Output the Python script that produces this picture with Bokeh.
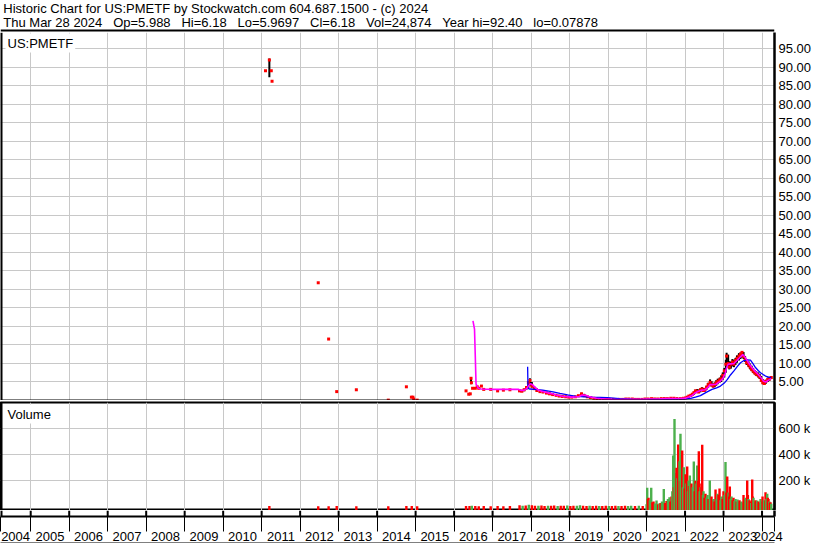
from bokeh.plotting import figure
from bokeh.layouts import column
from bokeh.models import (Range1d, FixedTicker, Span, Label, ColumnDataSource, LinearAxis,
                          CustomJSTickFormatter, PrintfTickFormatter)
from bokeh.embed import file_html
from bokeh.resources import INLINE

FONT = "Liberation Sans"
W = 830

# ---------------- header values ----------------
symbol = "US:PMETF"
quote_day = "Thu Mar 28 2024"
q_open, q_high, q_low, q_close = "5.988", "6.18", "5.9697", "6.18"
q_vol = "24,874"
year_hi, year_lo = "92.40", "0.07878"

# ---------------- axes ----------------
x_start, x_end = 2004.215, 2024.324
year_labels = list(range(2004, 2025))
price_ticks = [5, 10, 15, 20, 25, 30, 35, 40, 45, 50, 55, 60, 65, 70, 75, 80, 85, 90, 95]
vol_ticks = [200000, 400000, 600000]

# ---------------- price records ----------------
px_date = [2011.10, 2011.20, 2011.25, 2011.27, 2012.47, 2012.74, 2012.95, 2013.46, 2014.29, 2014.76,
           2014.89, 2014.93, 2014.95, 2015.04, 2016.31, 2016.38, 2016.42, 2016.44, 2016.45, 2016.48,
           2016.55, 2016.60, 2016.64, 2016.71, 2016.77, 2016.95, 2017.13, 2017.28, 2017.45,
           2017.70, 2017.76, 2017.82, 2017.88, 2017.93, 2017.97, 2018.02, 2018.08, 2018.15, 2018.23,
           2018.31, 2018.40, 2018.48, 2018.56, 2018.65, 2018.73, 2018.81, 2018.90, 2018.98, 2019.06,
           2019.15, 2019.23, 2019.31, 2019.38, 2019.46, 2019.54, 2019.63, 2019.71, 2019.79, 2019.88,
           2019.96, 2020.04, 2020.13, 2020.21, 2020.29, 2020.38, 2020.46, 2020.54, 2020.63, 2020.71,
           2020.79, 2020.88, 2020.96, 2021.04, 2021.13, 2021.21, 2021.29, 2021.38, 2021.46, 2021.54,
           2021.63, 2021.71, 2021.79, 2021.88, 2021.96, 2022.02, 2022.06, 2022.10, 2022.15, 2022.19,
           2022.23, 2022.27, 2022.31, 2022.35, 2022.40, 2022.44, 2022.48, 2022.52, 2022.56, 2022.60,
           2022.65, 2022.69, 2022.73, 2022.77, 2022.81, 2022.85, 2022.90, 2022.94, 2022.98, 2023.02,
           2023.06, 2023.08, 2023.12, 2023.15, 2023.19, 2023.23, 2023.27, 2023.31, 2023.35, 2023.40,
           2023.44, 2023.48, 2023.52, 2023.56, 2023.60, 2023.65, 2023.69, 2023.73, 2023.77, 2023.81,
           2023.85, 2023.90, 2023.94, 2023.98, 2024.02, 2024.06, 2024.10, 2024.15, 2024.19, 2024.24]
px_high = [89.1, 92.4, 89.1, 86.2, 31.8, 16.6, 2.4, 2.9, 0.1, 3.7,
           0.9, 0.9, 0.4, 0.1, 2.6, 1.7, 1.8, 6.0, 4.8, 3.3,
           3.3, 3.7, 3.3, 3.9, 3.0, 3.0, 2.6, 2.8, 2.9,
           3.0, 2.9, 3.2, 3.8, 5.2, 6.0, 5.0, 3.9, 3.3, 2.8,
           2.6, 2.4, 2.1, 2.0, 1.7, 1.5, 1.4, 1.3, 1.2, 1.1,
           1.2, 1.4, 2.1, 1.8, 1.3, 1.0, 0.9, 0.7, 0.6, 0.6,
           0.5, 0.5, 0.4, 0.4, 0.4, 0.5, 0.5, 0.6, 0.6, 0.5,
           0.5, 0.5, 0.5, 0.6, 0.6, 0.7, 0.6, 0.7, 0.8, 0.7,
           0.8, 0.9, 0.8, 0.7, 0.8, 0.9, 1.1, 1.4, 1.7, 2.0,
           2.4, 2.9, 3.1, 3.0, 3.3, 3.6, 3.4, 3.3, 4.0, 4.8,
           5.7, 5.2, 4.6, 4.9, 5.5, 5.9, 6.2, 6.8, 7.6, 8.8,
           11.0, 12.9, 12.4, 10.6, 10.5, 11.2, 11.0, 11.5, 12.2, 12.8,
           13.0, 13.3, 13.1, 12.0, 11.2, 10.6, 10.0, 9.4, 8.8, 8.2,
           7.9, 7.6, 7.2, 6.6, 5.8, 5.4, 5.6, 6.2, 6.4, 6.18]
px_low = [89.1, 87.3, 89.1, 86.2, 31.8, 16.6, 2.4, 2.9, 0.1, 3.7,
          0.9, 0.9, 0.4, 0.1, 2.6, 1.7, 1.8, 4.4, 4.8, 3.3,
          3.3, 3.7, 3.3, 3.9, 3.0, 3.0, 2.6, 2.8, 2.9,
          2.3, 2.3, 2.5, 2.9, 3.4, 4.0, 3.5, 3.0, 2.5, 2.2,
          2.0, 1.8, 1.6, 1.4, 1.2, 1.0, 0.9, 0.8, 0.8, 0.7,
          0.8, 0.9, 1.2, 1.1, 0.8, 0.6, 0.5, 0.4, 0.3, 0.3,
          0.3, 0.2, 0.2, 0.1, 0.1, 0.2, 0.2, 0.3, 0.3, 0.2,
          0.2, 0.2, 0.2, 0.3, 0.3, 0.3, 0.3, 0.3, 0.4, 0.4,
          0.4, 0.5, 0.4, 0.4, 0.4, 0.5, 0.6, 0.8, 1.0, 1.2,
          1.5, 1.9, 2.2, 2.0, 2.2, 2.6, 2.4, 2.4, 2.9, 3.4,
          3.9, 3.8, 3.5, 3.6, 4.0, 4.4, 4.8, 5.0, 5.6, 6.2,
          7.5, 8.9, 9.0, 8.4, 8.6, 9.2, 9.0, 9.6, 10.2, 10.8,
          11.2, 11.6, 11.2, 10.4, 9.6, 9.0, 8.4, 7.9, 7.4, 7.0,
          6.6, 6.2, 5.8, 5.0, 4.4, 4.3, 4.5, 5.0, 5.3, 5.97]
px_close = [89.1, 92.0, 89.1, 86.2, 31.8, 16.6, 2.4, 2.9, 0.1, 3.7,
            0.9, 0.9, 0.4, 0.1, 2.6, 1.7, 1.8, 6.0, 4.8, 3.3,
            3.3, 3.7, 3.3, 3.9, 3.0, 3.0, 2.6, 2.8, 2.9,
            2.6, 2.5, 2.9, 3.5, 4.8, 5.4, 3.9, 3.2, 2.7, 2.4,
            2.3, 2.0, 1.8, 1.6, 1.4, 1.2, 1.1, 1.0, 0.9, 0.9,
            1.0, 1.3, 1.8, 1.3, 1.0, 0.8, 0.6, 0.5, 0.5, 0.4,
            0.4, 0.3, 0.3, 0.2, 0.3, 0.3, 0.4, 0.4, 0.4, 0.3,
            0.3, 0.3, 0.4, 0.4, 0.5, 0.4, 0.4, 0.5, 0.5, 0.5,
            0.6, 0.6, 0.5, 0.5, 0.6, 0.7, 0.9, 1.2, 1.4, 1.7,
            2.1, 2.6, 2.5, 2.3, 2.9, 3.1, 2.7, 3.0, 3.6, 4.3,
            4.9, 4.2, 3.9, 4.3, 4.8, 5.2, 5.6, 5.9, 6.8, 8.0,
            9.8, 12.0, 10.0, 9.0, 9.8, 10.4, 9.8, 10.8, 11.4, 12.0,
            12.5, 13.0, 11.9, 11.0, 10.2, 9.6, 9.0, 8.4, 7.9, 7.5,
            7.1, 6.8, 6.3, 5.4, 4.8, 4.6, 5.2, 5.7, 5.8, 6.18]

# ---------------- moving averages ----------------
ma_fast_date = [2016.49, 2016.53, 2016.55, 2016.57, 2016.63, 2016.70, 2017.00, 2017.40, 2017.68, 2017.75,
                2017.82, 2017.88, 2017.93, 2017.98, 2018.03, 2018.10, 2018.18, 2018.27, 2018.36, 2018.45,
                2018.55, 2018.65, 2018.75, 2018.85, 2018.95, 2019.05, 2019.15, 2019.25, 2019.33, 2019.42,
                2019.50, 2019.60, 2019.70, 2019.80, 2019.95, 2020.10, 2020.30, 2020.50, 2020.70, 2020.90,
                2021.10, 2021.30, 2021.50, 2021.70, 2021.90, 2022.02, 2022.10, 2022.19, 2022.27, 2022.35,
                2022.44, 2022.52, 2022.60, 2022.65, 2022.73, 2022.81, 2022.90, 2022.98, 2023.04, 2023.08,
                2023.12, 2023.19, 2023.27, 2023.35, 2023.44, 2023.50, 2023.56, 2023.65, 2023.73, 2023.81,
                2023.90, 2023.98, 2024.04, 2024.10, 2024.17, 2024.24]
ma_fast = [21.5, 19.3, 12.0, 4.4, 3.3, 3.1, 3.0, 3.0, 3.0, 2.7,
           2.8, 3.1, 3.9, 4.5, 4.3, 3.6, 2.9, 2.5, 2.3, 2.0,
           1.8, 1.5, 1.3, 1.1, 1.0, 0.9, 0.95, 1.1, 1.5, 1.4,
           1.1, 0.8, 0.6, 0.5, 0.4, 0.3, 0.25, 0.35, 0.35, 0.3,
           0.4, 0.4, 0.5, 0.55, 0.55, 0.65, 0.95, 1.4, 2.1, 2.5,
           2.8, 2.9, 3.6, 4.3, 4.3, 4.4, 5.1, 5.9, 7.2, 8.9,
           9.8, 9.9, 10.0, 10.8, 11.8, 12.4, 11.7, 10.2, 9.0, 8.0,
           7.1, 6.1, 5.2, 5.0, 5.5, 5.9]
ma_slow_date = [2017.91, 2017.92, 2017.97, 2018.10, 2018.30, 2018.42, 2018.57, 2018.75, 2018.95, 2019.17,
                2019.40, 2019.60, 2019.98, 2020.30, 2020.63, 2021.00, 2021.50, 2022.00, 2022.15, 2022.27,
                2022.40, 2022.55, 2022.70, 2022.82, 2022.92, 2023.02, 2023.10, 2023.18, 2023.27, 2023.36,
                2023.44, 2023.53, 2023.62, 2023.70, 2023.76, 2023.83, 2023.90, 2023.96, 2024.03, 2024.09,
                2024.17, 2024.24]
ma_slow = [9.1, 3.3, 3.1, 3.0, 2.8, 2.6, 2.3, 1.9, 1.5, 1.1,
           1.0, 0.9, 0.75, 0.5, 0.35, 0.3, 0.35, 0.45, 0.6, 0.9,
           1.3, 2.2, 3.0, 3.4, 3.9, 4.7, 5.7, 6.9, 8.0, 9.2,
           10.2, 10.8, 11.0, 10.9, 10.0, 8.9, 8.1, 7.5, 7.0, 6.6,
           6.3, 6.2]

# ---------------- volume (thousands of shares), up=1 / down=0 ----------------
vol_date = [2011.20, 2012.47, 2012.74, 2012.95, 2013.46, 2014.29, 2014.76, 2014.90, 2015.04, 2016.31,
            2016.40, 2016.46, 2016.55, 2016.64, 2016.77, 2016.95, 2017.13, 2017.28, 2017.45,
            2017.70, 2017.78, 2017.86, 2017.94, 2018.02, 2018.10, 2018.19, 2018.27, 2018.35, 2018.44,
            2018.52, 2018.60, 2018.69, 2018.77, 2018.85, 2018.94, 2019.02, 2019.10, 2019.19, 2019.27,
            2019.35, 2019.44, 2019.52, 2019.60, 2019.69, 2019.77, 2019.85, 2019.94, 2020.02, 2020.10,
            2020.19, 2020.27, 2020.35, 2020.44, 2020.52, 2020.60, 2020.70, 2020.80, 2020.90,
            2021.000, 2021.017, 2021.035, 2021.051, 2021.085, 2021.121, 2021.150, 2021.181, 2021.220, 2021.259,
            2021.300, 2021.330, 2021.362, 2021.400, 2021.448, 2021.480, 2021.518, 2021.555, 2021.596, 2021.620,
            2021.648, 2021.670, 2021.692, 2021.710, 2021.726, 2021.750, 2021.778, 2021.800, 2021.822, 2021.840,
            2021.855, 2021.870, 2021.881, 2021.900, 2021.926, 2021.945, 2021.967, 2021.990, 2022.012, 2022.035,
            2022.056, 2022.075, 2022.090, 2022.105, 2022.124, 2022.145, 2022.168, 2022.200, 2022.228, 2022.250,
            2022.272, 2022.295, 2022.316, 2022.335, 2022.358, 2022.380, 2022.402, 2022.425, 2022.446, 2022.465,
            2022.480, 2022.505, 2022.532, 2022.560, 2022.584, 2022.610, 2022.643, 2022.665, 2022.688, 2022.715,
            2022.740, 2022.765, 2022.792, 2022.820, 2022.844, 2022.870, 2022.896, 2022.920, 2022.948, 2022.975,
            2022.999, 2023.025, 2023.051, 2023.075, 2023.096, 2023.129, 2023.146, 2023.163, 2023.185, 2023.207,
            2023.235, 2023.259, 2023.285, 2023.311, 2023.340, 2023.363, 2023.390, 2023.415, 2023.440, 2023.467,
            2023.490, 2023.519, 2023.545, 2023.571, 2023.595, 2023.615, 2023.632, 2023.649, 2023.675, 2023.701,
            2023.720, 2023.745, 2023.760, 2023.779, 2023.805, 2023.831, 2023.855, 2023.875, 2023.890, 2023.909,
            2023.935, 2023.961, 2023.990, 2024.013, 2024.030, 2024.052, 2024.070, 2024.091, 2024.110, 2024.135,
            2024.150, 2024.168, 2024.190, 2024.205, 2024.220, 2024.240]
vol_thousands = [6, 5, 5, 6, 5, 5, 6, 6, 5, 6,
                 7, 8, 6, 5, 6, 5, 6, 5, 6,
                 12, 8, 10, 15, 12, 9, 8, 10, 7, 9,
                 8, 10, 7, 9, 8, 10, 7, 8, 9, 12,
                 8, 7, 9, 6, 8, 7, 6, 8, 7, 6,
                 8, 7, 6, 8, 7, 8, 6, 9, 7,
                 20, 146, 60, 69, 50, 146, 35, 40, 25, 48,
                 20, 25, 30, 40, 136, 30, 45, 60, 74, 40,
                 80, 120, 395, 150, 675, 260, 300, 220, 480, 260,
                 350, 200, 562, 280, 434, 150, 305, 140, 250, 180,
                 310, 120, 200, 160, 241, 130, 180, 150, 349, 120,
                 200, 180, 318, 200, 428, 120, 150, 180, 477, 90,
                 120, 70, 100, 70, 90, 60, 202, 70, 80, 50,
                 60, 40, 133, 60, 100, 90, 140, 50, 80, 60,
                 120, 90, 344, 110, 233, 110, 80, 156, 60, 80,
                 50, 70, 45, 60, 40, 56, 40, 50, 35, 40,
                 30, 90, 60, 70, 40, 202, 90, 60, 50, 40,
                 30, 210, 80, 70, 40, 50, 35, 48, 30, 40,
                 30, 60, 40, 80, 40, 50, 40, 112, 60, 100,
                 70, 60, 40, 30, 35, 24]
vol_up = [0, 0, 0, 0, 0, 0, 0, 0, 0, 0,
          0, 1, 0, 0, 0, 0, 0, 0, 0,
          0, 1, 0, 1, 0, 0, 1, 0, 0, 1,
          0, 0, 1, 0, 0, 1, 0, 0, 1, 1,
          0, 0, 1, 0, 0, 1, 0, 0, 1, 0,
          0, 1, 0, 0, 1, 1, 0, 1, 0,
          1, 1, 0, 0, 1, 1, 0, 0, 1, 1,
          0, 1, 0, 1, 1, 0, 0, 1, 1, 0,
          0, 1, 1, 0, 1, 1, 0, 1, 0, 0,
          1, 0, 1, 1, 0, 1, 1, 0, 0, 1,
          0, 1, 1, 0, 1, 1, 0, 1, 1, 0,
          0, 1, 1, 0, 0, 1, 1, 0, 0, 1,
          1, 0, 0, 1, 1, 0, 1, 1, 0, 0,
          1, 0, 0, 1, 1, 0, 0, 1, 1, 0,
          0, 1, 1, 0, 0, 1, 0, 0, 1, 1,
          0, 0, 1, 1, 0, 1, 1, 0, 0, 1,
          1, 0, 0, 1, 1, 0, 0, 1, 0, 0,
          1, 0, 0, 1, 1, 0, 0, 1, 1, 0,
          0, 1, 1, 0, 0, 1, 1, 0, 1, 1,
          0, 0, 1, 0, 0, 1]

assert len(px_date) == len(px_high) == len(px_low) == len(px_close)
assert len(ma_fast_date) == len(ma_fast) and len(ma_slow_date) == len(ma_slow)
assert len(vol_date) == len(vol_thousands) == len(vol_up)

# ---------------- styling ----------------
GRID = "#c8c8c8"
RED = "#ff0000"
GREEN = "#4cb04c"
MAGENTA = "#ff00ff"
BLUE = "#0000ff"
RIGHT = 56
FRAME_W = W - RIGHT
ppy = FRAME_W / (x_end - x_start)
year_bounds = [y for y in year_labels if x_start < y < x_end]

xr = Range1d(x_start, x_end)


def style_right_axis(axis, ticks, formatter):
    axis.ticker = FixedTicker(ticks=ticks)
    axis.formatter = formatter
    axis.major_tick_line_color = None
    axis.minor_tick_line_color = None
    axis.major_tick_out = 0
    axis.major_tick_in = 0
    axis.major_label_standoff = 4
    axis.axis_line_color = "black"
    axis.axis_line_width = 2.5
    axis.major_label_text_font = FONT
    axis.major_label_text_font_size = "13px"
    axis.major_label_text_color = "black"


# ---------------- header ----------------
hdr = figure(width=W, height=32, x_range=Range1d(0, W), y_range=Range1d(32, 0),
             min_border=0, toolbar_location=None, output_backend="svg",
             x_axis_location=None, y_axis_location=None, outline_line_color=None)
hdr.grid.visible = False
line1 = f"Historic Chart for {symbol} by Stockwatch.com 604.687.1500 - (c) 2024"
gap = " \u00a0\u00a0"
line2 = (f"{quote_day}{gap}Op={q_open}{gap}Hi={q_high}{gap}Lo={q_low}{gap}Cl={q_close}"
         f"{gap}Vol={q_vol}{gap}Year hi={year_hi}{gap}lo={year_lo}")
for txt, yy in ((line1, 8), (line2, 22)):
    hdr.add_layout(Label(x=3, y=yy, text=txt, text_font=FONT, text_font_size="13px",
                         text_color="black", text_baseline="middle", text_align="left"))
hdr.add_layout(Span(location=30, dimension="width", line_color="black", line_width=2))

# ---------------- price panel ----------------
pp = figure(width=W, height=368, x_range=xr, y_range=Range1d(0, 99.4),
            min_border_left=0, min_border_right=RIGHT, min_border_top=0, min_border_bottom=0,
            toolbar_location=None, output_backend="svg", x_axis_location=None,
            y_axis_location="right", outline_line_color=None)
pp.xgrid.ticker = FixedTicker(ticks=year_bounds)
pp.ygrid.ticker = FixedTicker(ticks=price_ticks)
pp.grid.grid_line_color = GRID
pp.grid.grid_line_width = 1
style_right_axis(pp.yaxis[0], price_ticks, PrintfTickFormatter(format="%.2f"))

src = ColumnDataSource(dict(d=px_date, h=px_high, l=px_low, c=px_close))
pp.segment(x0="d", y0="l", x1="d", y1="h", source=src, line_color="black", line_width=2)
pp.scatter(x="d", y="c", source=src, marker="square", size=3, fill_color=RED, line_color=None)
pp.line(ma_slow_date, ma_slow, line_color=BLUE, line_width=1.3)
pp.line(ma_fast_date, ma_fast, line_color=MAGENTA, line_width=1.6)
pp.add_layout(Label(x=x_start, y=99.4, x_offset=5, y_offset=-1, text=symbol, text_font=FONT,
                    text_font_size="13px", text_color="black", text_baseline="top",
                    background_fill_color="white", padding=2))
pp.add_layout(Span(location=x_start, dimension="height", line_color="black", line_width=4))
pp.add_layout(Span(location=0, dimension="width", line_color="black", line_width=2))

# ---------------- volume panel ----------------
vol_lo = -28500
vf = figure(width=W, height=110, x_range=xr, y_range=Range1d(vol_lo, 802300),
            min_border_left=0, min_border_right=RIGHT, min_border_top=2, min_border_bottom=0,
            toolbar_location=None, output_backend="svg", x_axis_location=None,
            y_axis_location="right", outline_line_color="black", outline_line_width=2)
vf.xgrid.ticker = FixedTicker(ticks=year_bounds)
vf.ygrid.ticker = FixedTicker(ticks=vol_ticks)
vf.grid.grid_line_color = GRID
style_right_axis(vf.yaxis[0], vol_ticks,
                 CustomJSTickFormatter(code="return (tick / 1000).toFixed(0) + ' k';"))

vsrc = ColumnDataSource(dict(d=vol_date, v=[k * 1000 for k in vol_thousands],
                             col=[GREEN if u else RED for u in vol_up]))
vf.vbar(x="d", top="v", bottom=vol_lo, width=2.4 / ppy, source=vsrc,
        fill_color="col", line_color=None)
vf.add_layout(Label(x=x_start, y=802300, x_offset=5, y_offset=-2, text="Volume", text_font=FONT,
                    text_font_size="13px", text_color="black", text_baseline="top",
                    background_fill_color="white", padding=2))
vf.add_layout(Span(location=x_start, dimension="height", line_color="black", line_width=4))

# ---------------- year strip: tick row (frame) + label row (x axis) ----------------
sf = figure(width=W, height=33, x_range=xr, y_range=Range1d(0, 1),
            min_border_left=0, min_border_right=RIGHT, min_border_top=0, min_border_bottom=0,
            toolbar_location=None, output_backend="svg",
            x_axis_location="below", y_axis_location="right", outline_line_color=None)
sf.grid.visible = False
style_right_axis(sf.yaxis[0], [], CustomJSTickFormatter(code="return '';"))
sf.segment(x0=year_bounds, y0=0, x1=year_bounds, y1=1, line_color="black", line_width=2)
sf.add_layout(Span(location=x_start, dimension="height", line_color="black", line_width=4))

centers = [(max(y, x_start) + min(y + 1, x_end)) / 2 for y in year_labels]
xa = sf.xaxis[0]
xa.ticker = FixedTicker(ticks=centers, minor_ticks=[x_start] + year_bounds + [x_end])
xa.formatter = CustomJSTickFormatter(code="return String(Math.floor(tick));")
xa.major_tick_line_color = None
xa.major_tick_out = 0
xa.major_tick_in = 0
xa.minor_tick_out = 15
xa.minor_tick_in = 0
xa.minor_tick_line_color = "black"
xa.minor_tick_line_width = 1
xa.axis_line_color = "black"
xa.axis_line_width = 2
xa.major_label_standoff = 0
xa.major_label_text_font = FONT
xa.major_label_text_font_size = "13px"
xa.major_label_text_color = "black"

base = LinearAxis(ticker=FixedTicker(ticks=[]), formatter=CustomJSTickFormatter(code="return '';"),
                  axis_line_color="black", axis_line_width=2, major_tick_line_color=None,
                  minor_tick_line_color=None, major_tick_out=0, major_tick_in=0,
                  major_label_standoff=0)
sf.add_layout(base, "below")

root = column(hdr, pp, vf, sf, spacing=0)
open("out.html", "w").write(file_html(root, INLINE))
